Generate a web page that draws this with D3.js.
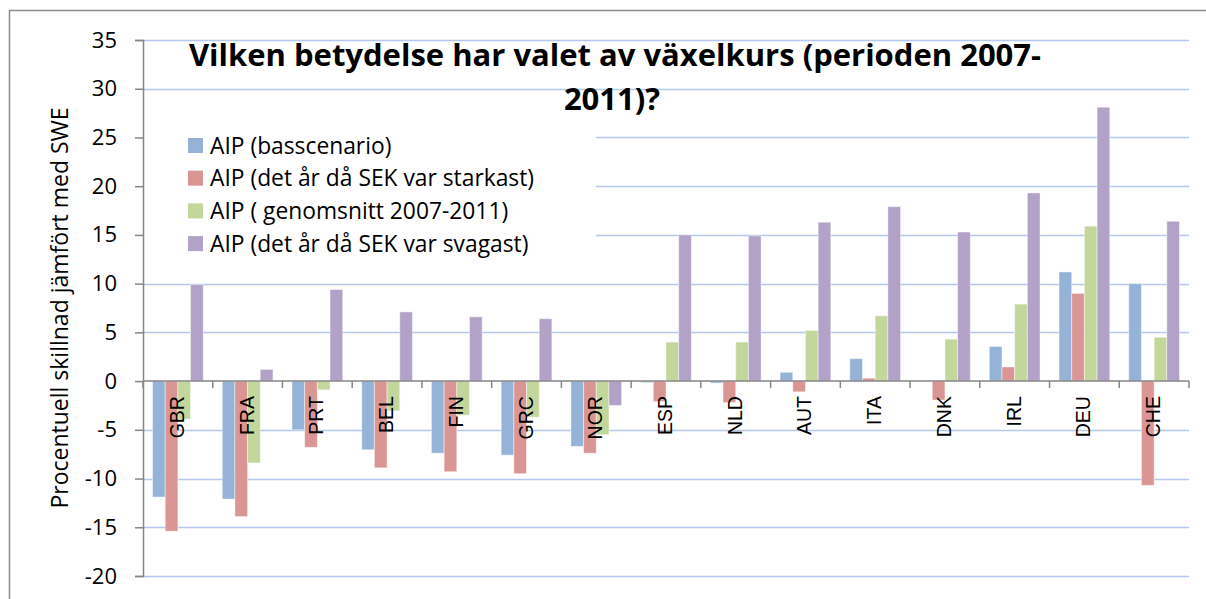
<!DOCTYPE html>
<html>
<head>
<meta charset="utf-8">
<script src="https://cdn.jsdelivr.net/npm/d3@7"></script>
<style>
  body { margin: 0; background: #fff; }
  svg { display: block; }
</style>
</head>
<body>
<div id="chart"></div>
<script>
var width = 1206;
var height = 599;

// data
var countries = ["GBR", "FRA", "PRT", "BEL", "FIN", "GRC", "NOR", "ESP", "NLD", "AUT", "ITA", "DNK", "IRL", "DEU", "CHE"];
var seriesNames = [
    "AIP (basscenario)",
    "AIP (det år då SEK var starkast)",
    "AIP ( genomsnitt 2007-2011)",
    "AIP (det år då SEK var svagast)"
];
var bas = [-11.9, -12.1, -5.0, -7.05, -7.4, -7.6, -6.7, -0.15, -0.2, 0.9, 2.3, 0, 3.55, 11.2, 10.0];
var starkast = [-15.4, -13.9, -6.8, -8.9, -9.3, -9.5, -7.4, -2.1, -2.2, -1.1, 0.3, -1.95, 1.45, 9.0, -10.7];
var genomsnitt = [-3.9, -8.4, -0.9, -3.05, -3.5, -3.7, -5.5, 4.0, 4.0, 5.2, 6.7, 4.3, 7.9, 15.9, 4.5];
var svagast = [9.9, 1.2, 9.4, 7.1, 6.6, 6.4, -2.5, 15.0, 14.9, 16.3, 17.9, 15.3, 19.3, 28.1, 16.4];
var yTicks = [-20, -15, -10, -5, 0, 5, 10, 15, 20, 25, 30, 35];

var colors = ["#95B3D7", "#D99694", "#C3D69B", "#B2A2C7"];
var allSeries = [bas, starkast, genomsnitt, svagast];

var font = "'Open Sans', Lato, sans-serif";
var margin = { left: 143, right: 1189, top: 40, bottom: 576 };

var svg = d3.select("#chart").append("svg")
    .attr("width", width)
    .attr("height", height);

// outer frame
svg.append("path")
    .attr("d", "M9.5," + height + "V10.5H" + width)
    .attr("fill", "none")
    .attr("stroke", "#8c8c8c")
    .attr("stroke-width", 1.5);

var y = d3.scaleLinear().domain([-20, 35]).range([margin.bottom, margin.top]);
var x0 = d3.scaleBand().domain(countries).range([margin.left, margin.right]).paddingInner(0);

// Excel style: 4 bars plus 150% gap per group
var barW = x0.bandwidth() / 5.5;
var x1 = d3.scaleBand().domain(d3.range(4)).range([0.75 * barW, 4.75 * barW]);

// grid lines
svg.append("g")
    .selectAll("line")
    .data(yTicks.filter(function (d) { return d !== 0; }))
    .enter().append("line")
    .attr("x1", margin.left)
    .attr("x2", margin.right)
    .attr("y1", function (d) { return Math.round(y(d)) + 0.5; })
    .attr("y2", function (d) { return Math.round(y(d)) + 0.5; })
    .attr("stroke", "#B3C8EC")
    .attr("stroke-width", 1.5);

// white legend box hides the grid behind it
svg.append("rect")
    .attr("x", margin.left + 1)
    .attr("y", 100)
    .attr("width", 596 - margin.left - 1)
    .attr("height", 170)
    .attr("fill", "#fff");

// bars
var groups = svg.append("g")
    .selectAll("g")
    .data(countries)
    .enter().append("g")
    .attr("transform", function (d) { return "translate(" + x0(d) + ",0)"; });

groups.selectAll("rect")
    .data(function (d, i) {
        return allSeries.map(function (s, k) { return { k: k, v: s[i] }; });
    })
    .enter().append("rect")
    .attr("x", function (d) { return x1(d.k); })
    .attr("width", x1.bandwidth())
    .attr("y", function (d) { return y(Math.max(0, d.v)); })
    .attr("height", function (d) { return Math.abs(y(d.v) - y(0)); })
    .attr("fill", function (d) { return colors[d.k]; })
    .attr("stroke", function (d) { return d.v === 0 ? "none" : "rgba(255,255,255,0.45)"; })
    .attr("stroke-width", 1);

// y axis
var yAxis = svg.append("g")
    .attr("transform", "translate(" + margin.left + ",0)")
    .call(d3.axisLeft(y).tickValues(yTicks).tickSize(8).tickPadding(18).tickFormat(d3.format("d")));
yAxis.select(".domain").attr("stroke", "#868686").attr("stroke-width", 1.5);
yAxis.selectAll(".tick line").attr("stroke", "#868686").attr("stroke-width", 1.5);
yAxis.selectAll(".tick text")
    .attr("font-family", font)
    .attr("font-size", 22)
    .attr("fill", "#000")
    .text(function (d) { return d < 0 ? "-" + Math.abs(d) : d; });

// category axis at zero
var xAxis = svg.append("g")
    .attr("transform", "translate(0," + y(0) + ")");
xAxis.append("line")
    .attr("x1", margin.left)
    .attr("x2", margin.right)
    .attr("stroke", "#868686")
    .attr("stroke-width", 1.5);
xAxis.selectAll("line.tk")
    .data(countries.concat(["end"]))
    .enter().append("line")
    .attr("class", "tk")
    .attr("x1", function (d, i) { return margin.left + i * x0.step(); })
    .attr("x2", function (d, i) { return margin.left + i * x0.step(); })
    .attr("y1", 0)
    .attr("y2", 7)
    .attr("stroke", "#868686")
    .attr("stroke-width", 1.5);
xAxis.selectAll("text")
    .data(countries)
    .enter().append("text")
    .attr("transform", function (d) {
        return "translate(" + (x0(d) + x0.bandwidth() / 2 + 6) + ",15) rotate(-90)";
    })
    .attr("text-anchor", "end")
    .attr("font-family", "'Liberation Sans', Arial, sans-serif")
    .attr("font-size", 19.5)
    .attr("fill", "#000")
    .text(function (d) { return d; });

// y axis title
svg.append("text")
    .attr("transform", "translate(68,308) rotate(-90)")
    .attr("text-anchor", "middle")
    .attr("font-family", font)
    .attr("font-size", 23)
    .attr("fill", "#000")
    .text("Procentuell skillnad jämfört med SWE");

// legend
var legend = svg.append("g")
    .selectAll("g")
    .data(seriesNames)
    .enter().append("g")
    .attr("transform", function (d, i) { return "translate(188," + (145.5 + i * 32.7) + ")"; });
legend.append("rect")
    .attr("x", 0)
    .attr("y", -7.5)
    .attr("width", 15)
    .attr("height", 15)
    .attr("fill", function (d, i) { return colors[i]; });
legend.append("text")
    .attr("x", 22)
    .attr("dy", "0.36em")
    .attr("font-family", font)
    .attr("font-size", 22.8)
    .attr("fill", "#000")
    .text(function (d) { return d; });

// title
var title = svg.append("g")
    .attr("font-family", font)
    .attr("font-weight", "bold")
    .attr("font-size", 31)
    .attr("text-anchor", "middle")
    .attr("fill", "#000");
title.append("text").attr("x", 615).attr("y", 66)
    .text("Vilken betydelse har valet av växelkurs (perioden 2007-");
title.append("text").attr("x", 612).attr("y", 110)
    .text("2011)?");
</script>
</body>
</html>
